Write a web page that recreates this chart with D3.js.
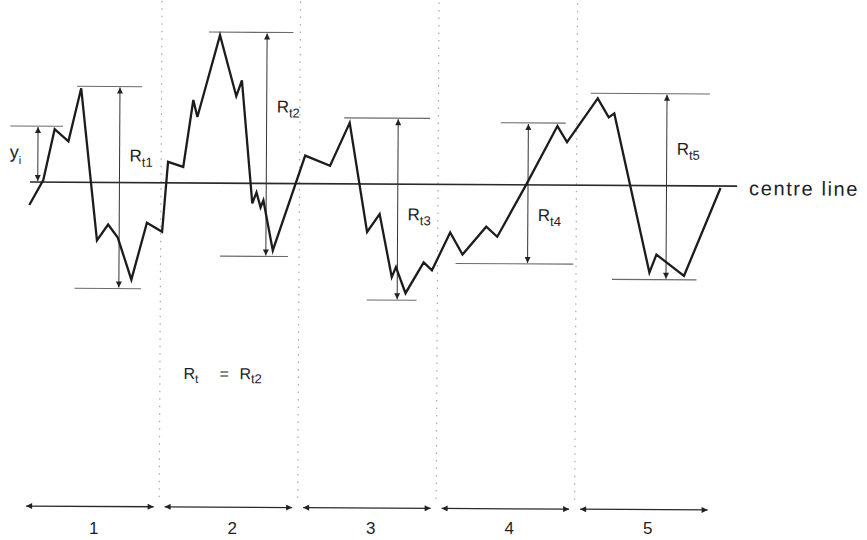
<!DOCTYPE html>
<html>
<head>
<meta charset="utf-8">
<script src="https://cdn.jsdelivr.net/npm/d3@7/dist/d3.min.js"></script>
<style>
  html, body { margin: 0; padding: 0; background: #ffffff; }
  svg { display: block; }
  text { font-family: "Liberation Sans", Arial, Helvetica, sans-serif; fill: #1e1e1e; }
</style>
</head>
<body>
<svg id="chart" width="867" height="540"></svg>
<script>
// ---- data (x in sampling lengths, y in height units relative to the centre line) ----
const sectionLabels = ["1", "2", "3", "4", "5"];
const profileX = [0.05, 0.15, 0.23, 0.33, 0.42, 0.54, 0.62, 0.69, 0.79, 0.90,
                  1.01, 1.05, 1.16, 1.23, 1.26, 1.42, 1.54, 1.58, 1.66, 1.69,
                  1.72, 1.74, 1.81, 2.04, 2.22, 2.36, 2.49, 2.58, 2.67, 2.70,
                  2.77, 2.90, 2.96, 3.09, 3.18, 3.35, 3.43, 3.64, 3.86, 3.93,
                  4.15, 4.23, 4.27, 4.53, 4.58, 4.78, 5.04];
const profileY = [-2.3, 0.2, 5.3, 4.1, 9.4, -5.8, -4.2, -5.5, -9.7, -4.0,
                  -4.9, 2.1, 1.6, 8.3, 6.6, 14.8, 8.7, 10.3, -2.0, -0.9,
                  -2.4, -1.7, -6.7, 2.8, 1.8, 6.1, -4.8, -3.0, -9.3, -8.3,
                  -10.9, -7.8, -8.6, -4.8, -7.0, -4.2, -5.2, 0.1, 5.9, 4.3,
                  8.7, 6.8, 7.2, -8.7, -6.9, -9.0, -0.2];
const rtNames = ["t1", "t2", "t3", "t4", "t5"];
const rtAt = [0.70, 1.76, 2.71, 3.65, 4.65];
const rtPeak = [9.6, 15.1, 6.6, 6.2, 9.2];
const rtValley = [-10.6, -7.3, -11.6, -7.9, -9.4];
const rtPeakSpan = [[0.39, 0.86], [1.34, 1.95], [2.32, 2.94], [3.45, 3.92], [4.10, 4.96]];
const rtValleySpan = [[0.38, 0.86], [1.43, 1.92], [2.49, 2.85], [3.13, 3.98], [4.26, 4.87]];
const rtLabelAt = [2.1, 7.1, -3.6, -3.6, 3.1];
const yiAt = 0.11;
const yiHeight = 5.6;
const yiSpan = [-0.09, 0.29];
const centreSpan = [0.054, 5.16];
const resultLabel = ["R", "t", "=", "R", "t2"];

// ---- scales ----
const svg = d3.select("#chart");
const x = d3.scaleLinear().domain([0, 5]).range([22.5, 715]);
const y = d3.scaleLinear().domain([-15, 17]).range([332, 12]);

const defs = svg.append("defs");
defs.append("marker")
  .attr("id", "ah")
  .attr("viewBox", "0 0 10 10")
  .attr("refX", 10).attr("refY", 5)
  .attr("markerWidth", 7).attr("markerHeight", 6)
  .attr("markerUnits", "userSpaceOnUse")
  .attr("orient", "auto-start-reverse")
  .append("path").attr("d", "M0,0L10,5L0,10z").attr("fill", "#222");

const g = svg.append("g").attr("transform", `rotate(0.33, ${x(0)}, ${y(0)})`);

// dotted section dividers
g.selectAll("line.div").data([1, 2, 3, 4]).join("line")
  .attr("class", "div")
  .attr("x1", d => x(d)).attr("x2", d => x(d))
  .attr("y1", 0).attr("y2", 497)
  .attr("stroke", "#a8a8a8").attr("stroke-width", 1.2)
  .attr("stroke-dasharray", "1.5,6");

// centre line
g.append("line")
  .attr("x1", x(centreSpan[0])).attr("x2", x(centreSpan[1]))
  .attr("y1", y(0)).attr("y2", y(0))
  .attr("stroke", "#2a2a2a").attr("stroke-width", 1.6);

// peak / valley reference lines
const refStroke = "#6a6a6a";
rtNames.forEach((n, i) => {
  g.append("line")
    .attr("x1", x(rtPeakSpan[i][0])).attr("x2", x(rtPeakSpan[i][1]))
    .attr("y1", y(rtPeak[i])).attr("y2", y(rtPeak[i]))
    .attr("stroke", refStroke).attr("stroke-width", 1.1);
  g.append("line")
    .attr("x1", x(rtValleySpan[i][0])).attr("x2", x(rtValleySpan[i][1]))
    .attr("y1", y(rtValley[i])).attr("y2", y(rtValley[i]))
    .attr("stroke", refStroke).attr("stroke-width", 1.1);
  g.append("line")
    .attr("x1", x(rtAt[i])).attr("x2", x(rtAt[i]))
    .attr("y1", y(rtPeak[i]) + 1).attr("y2", y(rtValley[i]) - 1)
    .attr("stroke", "#333").attr("stroke-width", 1)
    .attr("marker-start", "url(#ah)").attr("marker-end", "url(#ah)");
  const t = g.append("text")
    .attr("x", x(rtAt[i]) + 10).attr("y", y(rtLabelAt[i]))
    .attr("font-size", 17);
  t.append("tspan").text("R");
  t.append("tspan").attr("dy", 5).attr("font-size", 13).text(n);
});

// y_i annotation
g.append("line")
  .attr("x1", x(yiSpan[0])).attr("x2", x(yiSpan[1]))
  .attr("y1", y(yiHeight)).attr("y2", y(yiHeight))
  .attr("stroke", refStroke).attr("stroke-width", 1.1);
g.append("line")
  .attr("x1", x(yiAt)).attr("x2", x(yiAt))
  .attr("y1", y(yiHeight) + 1).attr("y2", y(0) - 1)
  .attr("stroke", "#333").attr("stroke-width", 1)
  .attr("marker-start", "url(#ah)").attr("marker-end", "url(#ah)");
const yi = g.append("text")
  .attr("x", x(yiAt) - 28).attr("y", y(yiHeight) + 32)
  .attr("font-size", 18);
yi.append("tspan").text("y");
yi.append("tspan").attr("dy", 6).attr("font-size", 11).text("i");

// profile
const line = d3.line().x(d => x(d[0])).y(d => y(d[1]));
g.append("path")
  .datum(profileX.map((v, i) => [v, profileY[i]]))
  .attr("d", line)
  .attr("fill", "none")
  .attr("stroke", "#1c1c1c")
  .attr("stroke-width", 2.3)
  .attr("stroke-linejoin", "miter");

// centre line label
g.append("text")
  .attr("x", x(centreSpan[1]) + 12).attr("y", y(0) + 9)
  .attr("font-size", 20).attr("letter-spacing", 1.6)
  .text("centre line");

// Rt = Rt2
const rx = x(1.17);
const rl = g.append("text").attr("x", rx).attr("y", y(-19.6)).attr("font-size", 16);
rl.append("tspan").text(resultLabel[0]);
rl.append("tspan").attr("dy", 4).attr("font-size", 12).text(resultLabel[1]);
rl.append("tspan").attr("x", rx + 36).attr("dy", -4).text(resultLabel[2]);
rl.append("tspan").attr("x", rx + 56).text(resultLabel[3]);
rl.append("tspan").attr("dy", 4).attr("font-size", 13).text(resultLabel[4]);

// sampling length arrows
const arrowY = 506;
g.selectAll("line.sec").data(sectionLabels).join("line")
  .attr("class", "sec")
  .attr("x1", (d, i) => x(i) + 5.5).attr("x2", (d, i) => x(i + 1) - 5.5)
  .attr("y1", arrowY).attr("y2", arrowY)
  .attr("stroke", "#2a2a2a").attr("stroke-width", 1.3)
  .attr("marker-start", "url(#ah)").attr("marker-end", "url(#ah)");
svg.selectAll("text.sec").data(sectionLabels).join("text")
  .attr("class", "sec")
  .attr("x", (d, i) => x(i + 0.5) + 2).attr("y", 534)
  .attr("text-anchor", "middle").attr("font-size", 17)
  .text(d => d);
</script>
</body>
</html>
